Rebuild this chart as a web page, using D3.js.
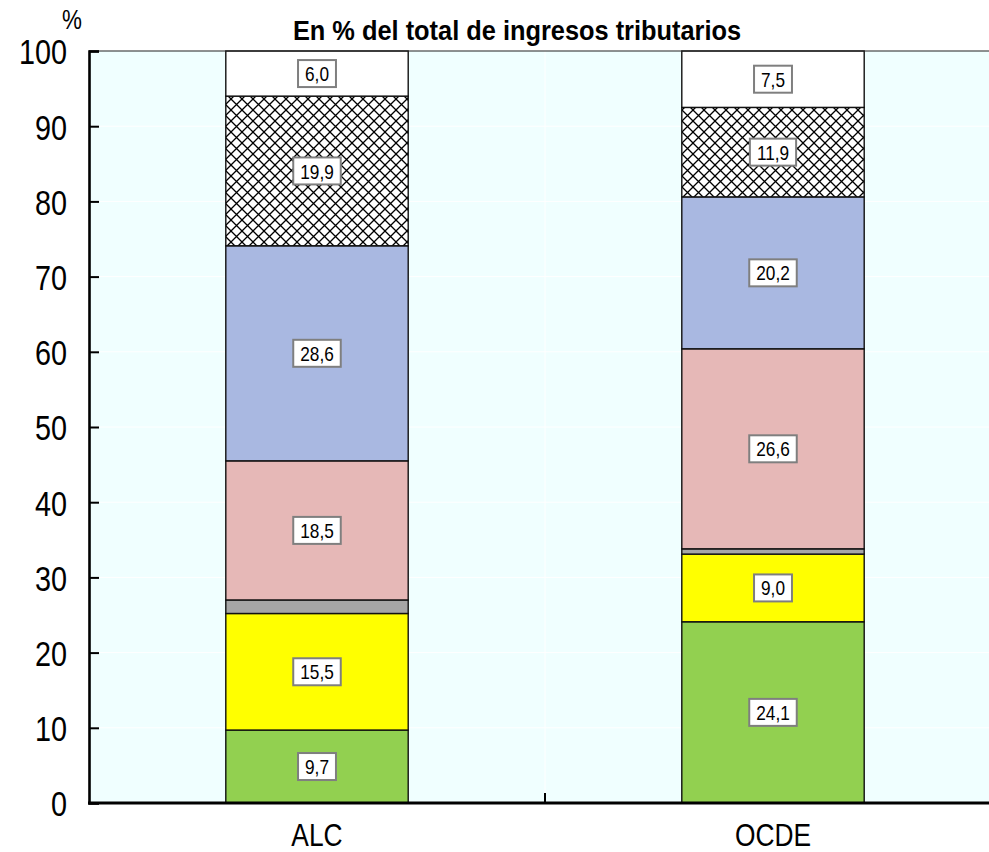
<!DOCTYPE html>
<meta charset="utf-8">
<script src="https://cdnjs.cloudflare.com/ajax/libs/d3/7.8.5/d3.min.js"></script>
<style>
  body { margin: 0; background: #fff; }
  svg { display: block; font-family: "Liberation Sans", Arial, sans-serif; }
  .tick text { font-size: 36px; fill: #000; }
  .lbl text { font-size: 21px; fill: #000; }
</style>
<body>
<script>
// categories and stacked shares (% of total tax revenue)
var categories = ["ALC", "OCDE"];
var series = ["green", "yellow", "gray", "pink", "blue", "hatch", "white"];
var seriesFill = ["#92d050", "#ffff00", "#a6a6a6", "#e6b8b7", "#a9b8e1", "url(#cross)", "#ffffff"];
var valuesALC  = [9.7, 15.5, 1.8, 18.5, 28.6, 19.9, 6.0];
var valuesOCDE = [24.1, 9.0, 0.7, 26.6, 20.2, 11.9, 7.5];
var showLabel  = [true, true, false, true, true, true, true];
var yTicks = [0, 10, 20, 30, 40, 50, 60, 70, 80, 90, 100];

var W = 989, H = 852;
var margin = {top: 51, right: -12, bottom: 49, left: 89};

var svg = d3.select("body").append("svg").attr("width", W).attr("height", H);

// squeeze text horizontally around its anchor (narrow face look)
function narrow(sel, k) {
  sel.each(function() {
    var t = d3.select(this);
    var x = +t.attr("x") || 0, y = +t.attr("y") || 0;
    t.attr("transform", "translate(" + x + "," + y + ") scale(" + k + ",1) translate(" + (-x) + "," + (-y) + ")");
  });
}

var defs = svg.append("defs");
var pat = defs.append("pattern").attr("id", "cross")
    .attr("patternUnits", "userSpaceOnUse").attr("width", 11).attr("height", 11);
pat.append("rect").attr("width", 11).attr("height", 11).attr("fill", "#fff");
pat.append("path").attr("d", "M0,0L11,11M11,0L0,11M-1,10L1,12M10,-1L12,1")
    .attr("stroke", "#000").attr("stroke-width", 1.3);

var x = d3.scaleBand().domain(categories).range([margin.left, W - margin.right]).padding(0);
var y = d3.scaleLinear().domain([0, 100]).range([H - margin.bottom, margin.top]);

// plot background + white grid
svg.append("rect").attr("x", margin.left).attr("y", margin.top)
    .attr("width", W - margin.left).attr("height", y(0) - margin.top)
    .attr("fill", "#f0ffff");
svg.append("g").selectAll("line").data(yTicks.slice(1, -1)).join("line")
    .attr("x1", margin.left).attr("x2", W)
    .attr("y1", d => y(d)).attr("y2", d => y(d))
    .attr("stroke", "#fff").attr("stroke-width", 1);
svg.append("line").attr("x1", x("OCDE")).attr("x2", x("OCDE"))
    .attr("y1", margin.top).attr("y2", y(0)).attr("stroke", "#fff");

// stacked bars
var data = [valuesALC, valuesOCDE];
var bw = x.bandwidth() * 0.4;
categories.forEach(function(c, i) {
  var vals = data[i], acc = 0;
  var g = svg.append("g");
  var x0 = x(c) + (x.bandwidth() - bw) / 2;
  var segs = vals.map(function(v, j) {
    var s = {v: v, y0: acc, y1: acc + v, j: j};
    acc += v;
    return s;
  });
  g.selectAll("rect").data(segs).join("rect")
      .attr("x", x0).attr("width", bw)
      .attr("y", d => y(d.y1)).attr("height", d => y(d.y0) - y(d.y1))
      .attr("fill", d => seriesFill[d.j])
      .attr("stroke", "#111").attr("stroke-width", 1.4);

  var lbl = g.selectAll(".lbl").data(segs.filter(d => showLabel[d.j])).join("g")
      .attr("class", "lbl")
      .attr("transform", d => "translate(" + (x0 + bw / 2) + "," + y((d.y0 + d.y1) / 2) + ")");
  lbl.append("text")
      .attr("text-anchor", "middle").attr("dy", "0.36em")
      .text(d => d.v.toFixed(1).replace(".", ","))
      .call(narrow, 0.82);
  lbl.each(function() {
    var t = d3.select(this).select("text"), b = t.node().getBBox();
    var w = b.width * 0.82 + 14;
    d3.select(this).insert("rect", "text")
        .attr("x", -w / 2).attr("y", -13.5)
        .attr("width", w).attr("height", 27)
        .attr("fill", "#fff").attr("stroke", "#7f7f7f").attr("stroke-width", 2);
  });
});

// top frame
svg.append("line").attr("x1", margin.left).attr("x2", W)
    .attr("y1", margin.top).attr("y2", margin.top)
    .attr("stroke", "#222").attr("stroke-width", 1.2);

// y axis (ticks pointing inward)
var yAxis = svg.append("g").attr("transform", "translate(" + margin.left + ",0)")
    .call(d3.axisLeft(y).tickValues(yTicks).tickSize(-10).tickPadding(22));
yAxis.select(".domain").attr("stroke-width", 2.6);
yAxis.selectAll(".tick line").attr("stroke-width", 2);
yAxis.selectAll(".tick text").attr("dy", "0.36em").call(narrow, 0.8);

// x axis with a boundary tick between categories
var xAxis = svg.append("g").attr("transform", "translate(0," + y(0) + ")");
xAxis.append("line").attr("x1", margin.left - 1).attr("x2", W)
    .attr("stroke", "#000").attr("stroke-width", 3);
xAxis.append("line").attr("x1", x("OCDE")).attr("x2", x("OCDE"))
    .attr("y1", 0).attr("y2", -10).attr("stroke", "#000").attr("stroke-width", 2);
xAxis.selectAll("text").data(categories).join("text")
    .attr("x", d => x(d) + x.bandwidth() / 2).attr("y", 43)
    .attr("text-anchor", "middle").attr("font-size", 31)
    .text(d => d)
    .call(narrow, 0.85);

// title and unit
svg.append("text").attr("x", 517).attr("y", 40).attr("text-anchor", "middle")
    .attr("font-size", 27).attr("font-weight", "bold")
    .text("En % del total de ingresos tributarios")
    .call(narrow, 0.94);
svg.append("text").attr("x", 72).attr("y", 29).attr("text-anchor", "middle")
    .attr("font-size", 28).text("%")
    .call(narrow, 0.8);
</script>
</body>
